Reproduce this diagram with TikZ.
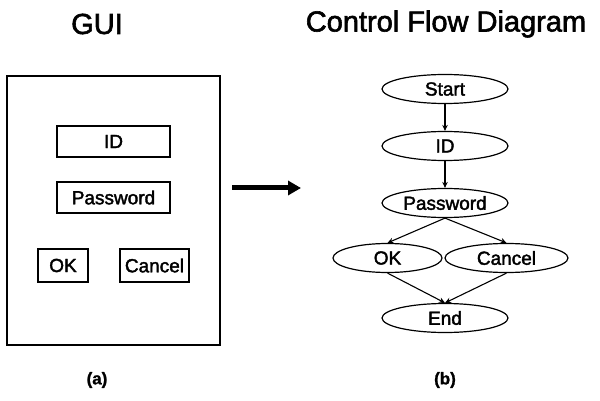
\documentclass[tikz,border=0pt]{standalone}
\usepackage{fontspec}
\setmainfont{Liberation Sans}[FakeBold=1.2]
\newfontfamily\heavyfont{Liberation Sans}[FakeBold=2]
\usetikzlibrary{shapes.geometric,arrows.meta}
\begin{document}
\begin{tikzpicture}[x=1pt,y=-1pt,
  box/.style={draw,line width=1.2pt,inner sep=0pt,font=\heavyfont\fontsize{19}{20}\selectfont},
  oval/.style={draw,ellipse,line width=1.2pt,inner sep=0pt,minimum height=29pt,font=\heavyfont\fontsize{19}{20}\selectfont},
  title/.style={font=\heavyfont\fontsize{29}{30}\selectfont},
  sublabel/.style={font=\bfseries\fontsize{17}{18}\selectfont},
  flow/.style={line width=1.1pt,-{Stealth[length=6pt,width=5.5pt]}}]
\useasboundingbox (0,0) rectangle (600,401);
% left
\node[title] (gui) at (97,24) {GUI};
\node[draw,line width=1.3pt,minimum width=213pt,minimum height=269pt,inner sep=0pt] (frame) at (113.5,210.5) {};
\node[box,minimum width=113pt,minimum height=31pt] (idb) at (113.5,141.5) {ID};
\node[box,minimum width=113pt,minimum height=31pt] (pwb) at (113.5,197.5) {Password};
\node[box,minimum width=50pt,minimum height=33pt] (okb) at (63,265.5) {OK};
\node[box,minimum width=69pt,minimum height=33pt] (cab) at (154.5,265.5) {Cancel};
\node[sublabel] (la) at (97,380) {(a)};
% arrow
\coordinate (a1) at (232,188);
\coordinate (a2) at (301,188);
\draw[line width=5pt,-{Triangle[length=13pt,width=14pt]}] (a1) -- (a2);
% right
\node[title] (cfd) at (446,24) {Control Flow Diagram};
\node[oval,minimum width=126pt] (start) at (445,89) {Start};
\node[oval,minimum width=126pt] (id) at (445,146) {ID};
\node[oval,minimum width=126pt] (pw) at (445,203) {Password};
\node[oval,minimum width=109pt] (ok) at (387.5,258) {OK};
\node[oval,minimum width=123pt] (cancel) at (506.5,258) {Cancel};
\node[oval,minimum width=126pt] (end) at (445,318) {End};
\node[sublabel] (lb) at (445,380) {(b)};
\draw[flow] (start) -- (id);
\draw[flow] (id) -- (pw);
\draw[flow] (pw.south) -- (ok.north);
\draw[flow] (pw.south) -- (cancel.north);
\draw[flow] (ok.south) -- (end.north);
\draw[flow] (cancel.south) -- (end.north);
\end{tikzpicture}
\end{document}
